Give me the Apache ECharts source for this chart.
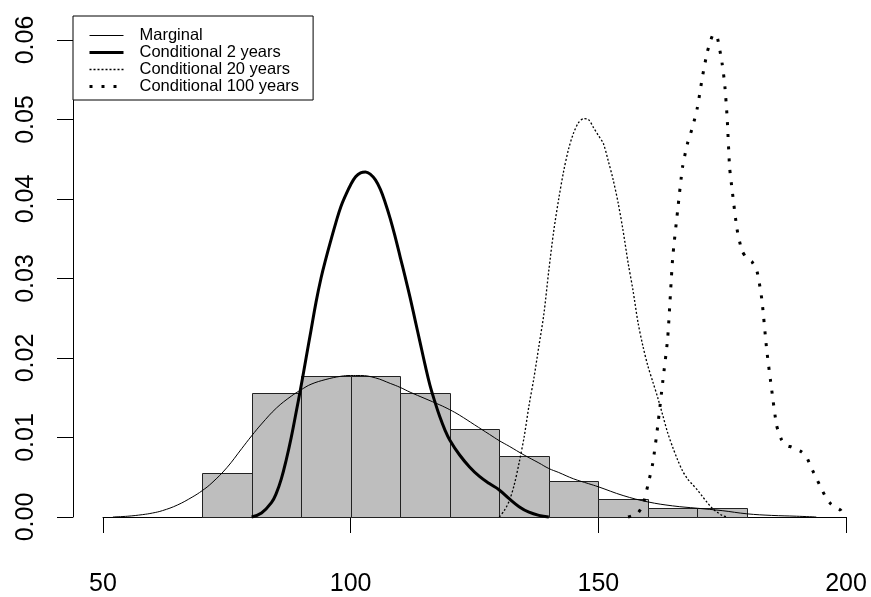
<!DOCTYPE html>
<html>
<head>
    <meta charset="utf-8">
    <title>Marginal and conditional densities</title>
    <script src="https://cdn.jsdelivr.net/npm/echarts@6/dist/echarts.min.js"></script>
    <style>
        html, body { margin: 0; padding: 0; background: #fff; }
        #chart { width: 871px; height: 597px; }
    </style>
</head>
<body>
<div id="chart"></div>
<script>
    // histogram bins (left edge, right edge) and density
    var binStart = [70, 80, 90, 100, 110, 120, 130, 140, 150, 160, 170];
    var binEnd = [80, 90, 100, 110, 120, 130, 140, 150, 160, 170, 180];
    var binDensity = [0.00548, 0.01556, 0.01773, 0.01773, 0.01556, 0.0111, 0.0077, 0.00456, 0.00226, 0.00109, 0.00109];

    // marginal density
    var margX = [52, 55, 58, 60, 62, 65, 68, 70, 72, 75, 78, 80, 82, 85, 88, 90, 92, 95, 98, 100, 102, 105, 108, 110, 112, 115, 118, 120, 122, 125, 128, 130, 132, 135, 138, 140, 142, 145, 148, 150, 155, 160, 165, 170, 175, 180, 185, 190, 194];
    var margY = [0, 0.0001, 0.0003, 0.0005, 0.0008, 0.0015, 0.0025, 0.0033, 0.0043, 0.0062, 0.0086, 0.0102, 0.0117, 0.0137, 0.0152, 0.016, 0.0167, 0.0173, 0.0177, 0.0178, 0.0178, 0.0175, 0.0168, 0.0163, 0.0157, 0.0149, 0.0141, 0.0135, 0.0128, 0.0116, 0.0104, 0.0096, 0.0089, 0.0078, 0.0068, 0.0061, 0.0056, 0.0048, 0.0042, 0.0038, 0.0027, 0.0019, 0.0014, 0.0011, 0.0008, 0.0004, 0.0002, 0.0001, 0];

    // conditional 2 years
    var c2X = [80, 82, 84, 85, 86, 87, 88, 89, 90, 91, 92, 93, 94, 95, 96, 97, 98, 99, 100, 101, 102, 103, 104, 105, 106, 107, 108, 109, 110, 111, 112, 113, 114, 115, 116, 117, 118, 119, 120, 122, 124, 126, 128, 130, 132, 134, 136, 138, 140];
    var c2Y = [0, 0.0005, 0.0018, 0.003, 0.0048, 0.0072, 0.01, 0.0132, 0.0165, 0.02, 0.0235, 0.027, 0.03, 0.0325, 0.0348, 0.037, 0.039, 0.0405, 0.0418, 0.0428, 0.0433, 0.0434, 0.0431, 0.0424, 0.0412, 0.0395, 0.0375, 0.0352, 0.0327, 0.0302, 0.0276, 0.0248, 0.022, 0.0192, 0.0166, 0.0145, 0.0126, 0.011, 0.0097, 0.0078, 0.0063, 0.0051, 0.0042, 0.0034, 0.0023, 0.0013, 0.0006, 0.0002, 0];

    // conditional 20 years
    var c20X = [130, 131, 132, 133, 134, 135, 136, 137, 138, 139, 140, 141, 142, 143, 144, 145, 146, 147, 148, 149, 150, 151, 152, 153, 154, 155, 156, 157, 158, 159, 160, 161, 162, 163, 164, 165, 166, 167, 168, 169, 170, 171, 172, 173, 174, 175, 176];
    var c20Y = [0, 0.0008, 0.002, 0.004, 0.0068, 0.01, 0.014, 0.0175, 0.0215, 0.0255, 0.031, 0.036, 0.04, 0.0435, 0.0463, 0.0483, 0.0496, 0.0501, 0.05, 0.049, 0.048, 0.047, 0.0448, 0.0424, 0.0395, 0.036, 0.032, 0.0285, 0.0245, 0.0215, 0.019, 0.017, 0.015, 0.0128, 0.0106, 0.0088, 0.0072, 0.0058, 0.0048, 0.0041, 0.0034, 0.0026, 0.0018, 0.0011, 0.0006, 0.0002, 0];

    // conditional 100 years
    var c100X = [156, 157, 158, 159, 160, 161, 162, 163, 164, 165, 166, 167, 168, 169, 170, 171, 172, 173, 173.5, 174, 175, 175.5, 176, 176.5, 177, 178, 179, 180, 181, 182, 183, 184, 185, 186, 187, 188, 189, 190, 191, 192, 193, 194, 195, 196, 197, 198, 199, 199.5];
    var c100Y = [0, 0.0002, 0.0005, 0.0015, 0.004, 0.0068, 0.0115, 0.017, 0.0225, 0.0325, 0.0385, 0.044, 0.047, 0.049, 0.0515, 0.0553, 0.0585, 0.0605, 0.0607, 0.0604, 0.057, 0.0545, 0.0503, 0.044, 0.0412, 0.0362, 0.0335, 0.0325, 0.0321, 0.031, 0.0274, 0.021, 0.016, 0.0115, 0.0097, 0.009, 0.0088, 0.0085, 0.0082, 0.0076, 0.0062, 0.0049, 0.0036, 0.0024, 0.0016, 0.0012, 0.0008, 0];

    var xTicks = [50, 100, 150, 200];
    var yTicks = [0, 0.01, 0.02, 0.03, 0.04, 0.05, 0.06];

    // line looks, shared by series and legend
    var styles = {
        'Marginal': { color: '#000', width: 1, type: 'solid' },
        'Conditional 2 years': { color: '#000', width: 3, type: 'solid' },
        'Conditional 20 years': { color: '#000', width: 1.3, type: [2, 2] },
        'Conditional 100 years': { color: '#000', width: 3, type: [3, 9] }
    };

    function pairs(xs, ys) {
        return xs.map(function (x, i) { return [x, ys[i]]; });
    }

    function curve(name, xs, ys, smooth) {
        return {
            type: 'line', name: name, data: pairs(xs, ys),
            symbol: 'none', smooth: smooth, clip: false,
            lineStyle: styles[name], itemStyle: { color: '#000' }
        };
    }

    var bins = binStart.map(function (s, i) { return [s, binEnd[i], binDensity[i]]; });
    var font = 'Liberation Sans, Arial, sans-serif';

    var myChart = echarts.init(document.getElementById('chart'));
    myChart.setOption({
        animation: false,
        backgroundColor: '#fff',
        grid: { left: 103, right: 25, top: 40, bottom: 80, outerBoundsMode: 'none' },
        legend: {
            data: Object.keys(styles).map(function (n) {
                return { name: n, lineStyle: styles[n] };
            }),
            orient: 'vertical',
            left: 73,
            top: 16,
            padding: [11, 14, 5, 15],
            itemWidth: 34,
            itemHeight: 17,
            itemGap: 0,
            borderColor: '#000',
            borderWidth: 1,
            borderRadius: 0,
            backgroundColor: '#fff',
            // hide the symbol in the middle of each legend line
            itemStyle: { color: 'rgba(0,0,0,0)', borderColor: 'rgba(0,0,0,0)', borderWidth: 0 },
            textStyle: { fontFamily: font, fontSize: 16.5, color: '#000', lineHeight: 17, padding: [0, 0, 0, 11] }
        },
        xAxis: {
            type: 'value',
            min: xTicks[0],
            max: xTicks[xTicks.length - 1],
            interval: 50,
            offset: 20,
            axisLine: { lineStyle: { color: '#000', width: 1 } },
            axisTick: { length: 16, lineStyle: { color: '#000' } },
            axisLabel: { fontFamily: font, fontSize: 25, color: '#000', margin: 35 },
            splitLine: { show: false }
        },
        yAxis: {
            type: 'value',
            min: yTicks[0],
            max: yTicks[yTicks.length - 1],
            interval: 0.01,
            offset: 30,
            axisLine: { show: true, lineStyle: { color: '#000', width: 1 } },
            axisTick: { show: true, length: 16, lineStyle: { color: '#000' } },
            axisLabel: {
                fontFamily: font, fontSize: 25, color: '#000', rotate: 90, margin: 34,
                formatter: function (v) { return v.toFixed(2); }
            },
            splitLine: { show: false }
        },
        series: [
            {
                type: 'custom',
                name: 'hist',
                data: bins,
                encode: { x: [0, 1], y: 2 },
                renderItem: function (params, api) {
                    var p0 = api.coord([api.value(0), api.value(2)]);
                    var p1 = api.coord([api.value(1), 0]);
                    return {
                        type: 'rect',
                        shape: { x: Math.round(p0[0]) + 0.5, y: Math.round(p0[1]) + 0.5, width: Math.round(p1[0]) - Math.round(p0[0]), height: Math.round(p1[1]) - Math.round(p0[1]) },
                        style: { fill: '#bebebe', stroke: '#222', lineWidth: 1 }
                    };
                }
            },
            curve('Marginal', margX, margY, 0.4),
            curve('Conditional 2 years', c2X, c2Y, 0.4),
            curve('Conditional 20 years', c20X, c20Y, 0.3),
            curve('Conditional 100 years', c100X, c100Y, 0.2)
        ]
    });
</script>
</body>
</html>
